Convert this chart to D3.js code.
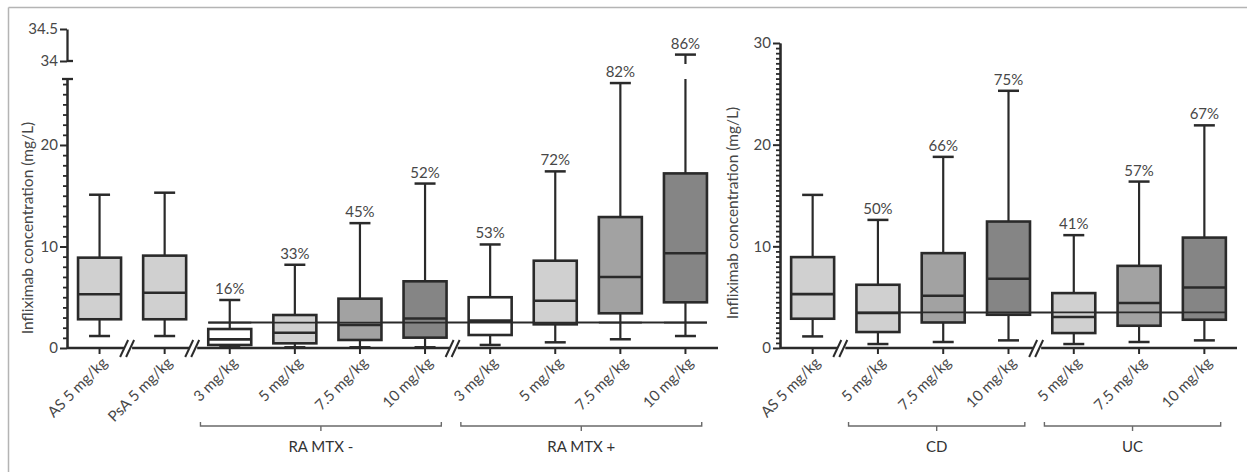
<!DOCTYPE html>
<html><head><meta charset="utf-8">
<script src="https://cdn.jsdelivr.net/npm/d3@7"></script>
<style>
html,body{margin:0;padding:0;background:#fff;}
svg{display:block;font-family:Lato,"Open Sans",sans-serif;}
</style></head><body>
<svg id="chart" width="1247" height="472"></svg>
<script>
// ---------- data ----------
const leftCategories = ["AS 5 mg/kg","PsA 5 mg/kg","3 mg/kg","5 mg/kg","7.5 mg/kg","10 mg/kg","3 mg/kg","5 mg/kg","7.5 mg/kg","10 mg/kg"];
const leftMin    = [1.18, 1.18, 0.07, 0.07, 0.07, 0.07, 0.30, 0.56, 0.86, 1.18];
const leftQ1     = [2.83, 2.83, 0.30, 0.46, 0.79, 1.02, 1.28, 2.33, 3.42, 4.50];
const leftMedian = [5.30, 5.45, 0.85, 1.50, 2.27, 2.90, 2.70, 4.66, 7.00, 9.33];
const leftQ3     = [8.90, 9.10, 1.87, 3.25, 4.86, 6.57, 5.00, 8.60, 12.9, 17.2];
const leftMax    = [15.1, 15.3, 4.73, 8.20, 12.3, 16.2, 10.2, 17.4, 26.1, 34.1];
const leftPct    = ["", "", "16%", "33%", "45%", "52%", "53%", "72%", "82%", "86%"];
const leftBreaksAfter = [0, 1, 5];
const leftGroupLabels = ["RA MTX -", "RA MTX +"];
const leftGroupStart  = [2, 6];
const leftGroupEnd    = [5, 9];
const leftRefValue = 2.5;
const leftRefFrom = 2, leftRefTo = 9;
const leftLowerDomain = [0, 26.5];
const leftUpperDomain = [34, 34.5];
const leftMajorTicks = [0, 10, 20];
const leftUpperTicks = [34, 34.5];

const rightCategories = ["AS 5 mg/kg","5 mg/kg","7.5 mg/kg","10 mg/kg","5 mg/kg","7.5 mg/kg","10 mg/kg"];
const rightMin    = [1.14, 0.39, 0.59, 0.75, 0.39, 0.59, 0.75];
const rightQ1     = [2.88, 1.57, 2.51, 3.27, 1.47, 2.19, 2.78];
const rightMedian = [5.30, 3.44, 5.14, 6.81, 3.05, 4.42, 5.95];
const rightQ3     = [8.94, 6.22, 9.33, 12.44, 5.40, 8.08, 10.86];
const rightMax    = [15.06, 12.6, 18.8, 25.3, 11.1, 16.37, 21.9];
const rightPct    = ["", "50%", "66%", "75%", "41%", "57%", "67%"];
const rightBreaksAfter = [0, 3];
const rightGroupLabels = ["CD", "UC"];
const rightGroupStart  = [1, 4];
const rightGroupEnd    = [3, 6];
const rightRefValue = 3.5;
const rightRefFrom = 1, rightRefTo = 6;
const rightDomain = [0, 30];
const rightMajorTicks = [0, 10, 20, 30];

const yTitle = "Infliximab concentration (mg/L)";

// ---------- styles ----------
const fills = {"AS 5 mg/kg":"#d0d0d0","PsA 5 mg/kg":"#d0d0d0","3 mg/kg":"#ffffff","5 mg/kg":"#d0d0d0","7.5 mg/kg":"#a2a2a2","10 mg/kg":"#858585"};
const ink = "#2a2a2a", textCol = "#474747";
const FONT = "Lato,'Open Sans',sans-serif";
const svg = d3.select("#chart");

// frame
svg.append("line").attr("x1",8.5).attr("x2",1247).attr("y1",7.5).attr("y2",7.5).attr("stroke","#b4b4b4").attr("stroke-width",1.5);
svg.append("line").attr("x1",8.5).attr("x2",8.5).attr("y1",7.5).attr("y2",472).attr("stroke","#b4b4b4").attr("stroke-width",1.5);

function drawPanel(o){
  const g = svg.append("g");
  const idx = d3.range(o.cats.length);
  const x = d3.scalePoint().domain(idx).range([o.x0, o.x1]).padding(0.5);
  const step = x.step();
  const y = o.y;
  const yU = o.yU;
  const baseY = y(0);
  const boxW = 43, capW = 21;
  const fmt = d3.format("~g");

  const minorTicks = d3.range(o.domain[0], o.domain[1] + 1e-9, o.minorStep).filter(v => !o.major.includes(v));
  g.append("g").attr("transform",`translate(${o.x0},0)`)
    .call(d3.axisLeft(y).tickValues(minorTicks).tickSize(4).tickSizeOuter(0).tickFormat(""))
    .call(a => a.selectAll("line,path").attr("stroke",ink).attr("stroke-width",1.8));
  g.append("g").attr("transform",`translate(${o.x0},0)`)
    .call(d3.axisLeft(y).tickValues(o.major).tickSize(7).tickSizeOuter(0).tickPadding(2).tickFormat(fmt))
    .call(a => a.select(".domain").attr("stroke",ink).attr("stroke-width",2.3))
    .call(a => a.selectAll(".tick line").attr("stroke",ink).attr("stroke-width",2))
    .call(a => a.selectAll("text").attr("fill",textCol).attr("font-size",15).attr("font-family",FONT));

  if (yU){
    g.append("line").attr("x1",o.x0-5).attr("x2",o.x0+6).attr("y1",y(o.domain[1])).attr("y2",y(o.domain[1])).attr("stroke",ink).attr("stroke-width",2.3);
    g.append("g").attr("transform",`translate(${o.x0},0)`)
      .call(d3.axisLeft(yU).tickValues(o.upperTicks).tickSize(7).tickSizeOuter(0).tickPadding(2).tickFormat(fmt))
      .call(a => a.select(".domain").attr("stroke",ink).attr("stroke-width",2.3))
      .call(a => a.selectAll(".tick line").attr("stroke",ink).attr("stroke-width",2))
      .call(a => a.selectAll("text").attr("fill",textCol).attr("font-size",15).attr("font-family",FONT));
    g.append("line").attr("x1",o.x0).attr("x2",o.x0+6).attr("y1",yU(o.upperTicks[0])).attr("y2",yU(o.upperTicks[0])).attr("stroke",ink).attr("stroke-width",2.3);
  }

  g.append("text").attr("transform",`translate(${o.titleX},${o.titleY}) rotate(-90)`)
    .attr("text-anchor","middle").attr("fill",textCol).attr("font-size",15.5).text(yTitle);

  g.append("line").attr("x1",o.x0).attr("x2",o.x1).attr("y1",baseY).attr("y2",baseY).attr("stroke",ink).attr("stroke-width",2.3);
  idx.forEach(i => {
    g.append("line").attr("x1",x(i)).attr("x2",x(i)).attr("y1",baseY).attr("y2",baseY+6).attr("stroke",ink).attr("stroke-width",2);
  });
  o.breaks.forEach(b => {
    const bx = (x(b) + x(b+1)) / 2 - 4;
    g.append("rect").attr("x",bx-4).attr("y",baseY-3).attr("width",8).attr("height",6).attr("fill","#fff");
    [-4, 2].forEach(dx => {
      g.append("line").attr("x1",bx+dx-4).attr("y1",baseY+9).attr("x2",bx+dx+4).attr("y2",baseY-8)
        .attr("stroke",ink).attr("stroke-width",2);
    });
  });

  const refG = g.append("g");
  const boxesG = g.append("g");
  refG.append("line").attr("x1",x(o.refFrom)-boxW/2).attr("x2",x(o.refTo)+boxW/2)
    .attr("y1",y(o.ref)).attr("y2",y(o.ref)).attr("stroke",ink).attr("stroke-width",2);

  idx.forEach(i => {
    const cx = x(i);
    const top = o.max[i];
    const bg = boxesG.append("g");
    bg.append("line").attr("x1",cx).attr("x2",cx).attr("y1",y(o.q1[i])).attr("y2",y(o.min[i])).attr("stroke",ink).attr("stroke-width",2.2);
    bg.append("line").attr("x1",cx-capW/2).attr("x2",cx+capW/2).attr("y1",y(o.min[i])).attr("y2",y(o.min[i])).attr("stroke",ink).attr("stroke-width",2.5);
    let capY;
    if (yU && top > o.domain[1]){
      bg.append("line").attr("x1",cx).attr("x2",cx).attr("y1",y(o.q3[i])).attr("y2",y(o.domain[1])).attr("stroke",ink).attr("stroke-width",2.2);
      bg.append("line").attr("x1",cx).attr("x2",cx).attr("y1",yU(o.upperTicks[0])+3).attr("y2",yU(top)).attr("stroke",ink).attr("stroke-width",2.2);
      capY = yU(top);
    } else {
      bg.append("line").attr("x1",cx).attr("x2",cx).attr("y1",y(o.q3[i])).attr("y2",y(top)).attr("stroke",ink).attr("stroke-width",2.2);
      capY = y(top);
    }
    bg.append("line").attr("x1",cx-capW/2).attr("x2",cx+capW/2).attr("y1",capY).attr("y2",capY).attr("stroke",ink).attr("stroke-width",2.5);
    bg.append("rect").attr("x",cx-boxW/2).attr("width",boxW)
      .attr("y",y(o.q3[i])).attr("height",y(o.q1[i])-y(o.q3[i]))
      .attr("fill",fills[o.cats[i]]).attr("stroke",ink).attr("stroke-width",2.6);
    bg.append("line").attr("x1",cx-boxW/2).attr("x2",cx+boxW/2).attr("y1",y(o.med[i])).attr("y2",y(o.med[i])).attr("stroke",ink).attr("stroke-width",2.6);
    if (o.pct[i]) {
      bg.append("text").attr("x",cx).attr("y",capY-6).attr("text-anchor","middle")
        .attr("fill",textCol).attr("font-size",15).text(o.pct[i]);
    }
    g.append("text").attr("transform",`translate(${cx+5},${baseY+12}) rotate(-45)`)
      .attr("text-anchor","end").attr("dy","0.35em").attr("fill",textCol).attr("font-size",15).text(o.cats[i]);
  });
  boxesG.append("g").selectAll("line").data(idx.filter(i => i>=o.refFrom && i<=o.refTo)).join("line")
    .attr("x1",i => x(i)-boxW/2).attr("x2",i => x(i)+boxW/2).attr("y1",y(o.ref)).attr("y2",y(o.ref))
    .attr("stroke",ink).attr("stroke-width",1.6);

  o.groupLabels.forEach((lab, k) => {
    const a = x(o.groupStart[k]) - 0.45*step, b = x(o.groupEnd[k]) + 0.25*step, by = 426;
    const m = (a+b)/2;
    g.append("path").attr("d",`M${a},${by-4}V${by}H${b}V${by-4}M${m},${by}V${by+5}`)
      .attr("fill","none").attr("stroke","#6a6a6a").attr("stroke-width",1.4);
    g.append("text").attr("x",m).attr("y",452).attr("text-anchor","middle").attr("fill","#333").attr("font-size",15).text(lab);
  });
}

drawPanel({
  cats:leftCategories, min:leftMin, q1:leftQ1, med:leftMedian, q3:leftQ3, max:leftMax, pct:leftPct,
  x0:67, x1:718,
  y:d3.scaleLinear().domain(leftLowerDomain).range([348,79]),
  yU:d3.scaleLinear().domain(leftUpperDomain).range([61,29]),
  domain:leftLowerDomain, minorStep:1, major:leftMajorTicks, upperTicks:leftUpperTicks,
  breaks:leftBreaksAfter, ref:leftRefValue, refFrom:leftRefFrom, refTo:leftRefTo,
  groupLabels:leftGroupLabels, groupStart:leftGroupStart, groupEnd:leftGroupEnd,
  titleX:33, titleY:228
});
drawPanel({
  cats:rightCategories, min:rightMin, q1:rightQ1, med:rightMedian, q3:rightQ3, max:rightMax, pct:rightPct,
  x0:780, x1:1237,
  y:d3.scaleLinear().domain(rightDomain).range([348,43]),
  yU:null,
  domain:rightDomain, minorStep:0.5, major:rightMajorTicks, upperTicks:[],
  breaks:rightBreaksAfter, ref:rightRefValue, refFrom:rightRefFrom, refTo:rightRefTo,
  groupLabels:rightGroupLabels, groupStart:rightGroupStart, groupEnd:rightGroupEnd,
  titleX:738, titleY:213
});
</script>
</body></html>
